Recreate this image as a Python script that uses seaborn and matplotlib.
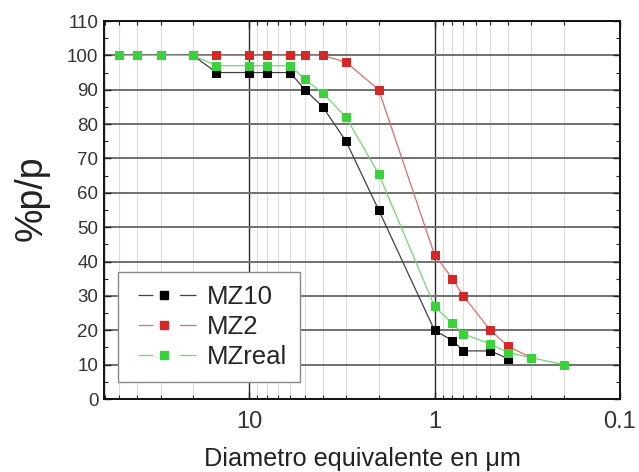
import matplotlib
matplotlib.use("Agg")
import matplotlib.pyplot as plt
import seaborn as sns
import pandas as pd
from matplotlib.lines import Line2D
from matplotlib.ticker import FixedLocator, MultipleLocator, NullFormatter, LogLocator

# ---- data ----
x_mz10 = [50, 40, 30, 20, 15, 10, 8, 6, 5, 4, 3, 2, 1, 0.8, 0.7, 0.5, 0.4]
y_mz10 = [100, 100, 100, 100, 95, 95, 95, 95, 90, 85, 75, 55, 20, 17, 14, 14, 11.7]

x_mz2 = [20, 15, 10, 8, 6, 5, 4, 3, 2, 1, 0.8, 0.7, 0.5, 0.4, 0.3]
y_mz2 = [100, 100, 100, 100, 100, 100, 100, 98, 90, 42, 35, 30, 20, 15.3, 12]

x_mzreal = [50, 40, 30, 20, 15, 10, 8, 6, 5, 4, 3, 2, 1, 0.8, 0.7, 0.5, 0.4, 0.3, 0.2]
y_mzreal = [100, 100, 100, 100, 97, 97, 97, 97, 93, 89, 82, 65.5, 27, 22, 19, 16, 13.5, 12, 10]

series_names = ["MZ10", "MZ2", "MZreal"]
x_ticks = [10, 1, 0.1]
x_tick_labels = ["10", "1", "0.1"]
y_ticks = list(range(0, 111, 10))

sns.set_theme(style="white")
plt.rcParams["font.family"] = ["Liberation Sans", "DejaVu Sans"]

fig = plt.figure(figsize=(6.39, 4.72), dpi=100)
ax = fig.add_axes([104 / 639, 1 - 399 / 472, (620 - 104) / 639, (399 - 21) / 472])

LW = 0.9
MS = 5.2
styles = [
    dict(color="#404040", markerfacecolor="#000000", markeredgecolor="#000000"),
    dict(color="#e36a6a", markerfacecolor="#d42828", markeredgecolor="#d42828"),
    dict(color="#6fd86f", markerfacecolor="#3ad23a", markeredgecolor="#3ad23a"),
]
data = [(x_mz10, y_mz10), (x_mz2, y_mz2), (x_mzreal, y_mzreal)]
for (xs, ys), name, st in zip(data, series_names, styles):
    df = pd.DataFrame({"x": xs, "y": ys})
    sns.lineplot(data=df, x="x", y="y", ax=ax, marker="s", markersize=MS,
                 linewidth=LW, label=name, estimator=None, sort=True, **st)

ax.set_xscale("log")
ax.set_xlim(60.5, 0.1)
ax.set_ylim(0, 110)

ax.xaxis.set_major_locator(FixedLocator(x_ticks))
ax.set_xticklabels(x_tick_labels)
ax.xaxis.set_minor_locator(LogLocator(base=10, subs=range(2, 10)))
ax.xaxis.set_minor_formatter(NullFormatter())
ax.set_yticks(y_ticks)
ax.yaxis.set_minor_locator(MultipleLocator(5))

# grid
ax.grid(False)
ax.grid(True, which="minor", axis="x", color="#dcdcdc", linewidth=0.8)
ax.grid(True, which="major", axis="x", color="#2a2a2a", linewidth=1.0)
ax.grid(True, which="major", axis="y", color="#707070", linewidth=1.4)
ax.set_axisbelow(True)

for sp in ax.spines.values():
    sp.set_color("#111111")
    sp.set_linewidth(1.4)

ax.tick_params(axis="both", which="both", direction="in", top=True, right=True,
               bottom=True, left=True, colors="#222222")
ax.tick_params(axis="both", which="major", length=5, width=1.0)
ax.tick_params(axis="both", which="minor", length=3, width=0.8)
ax.tick_params(axis="x", which="major", labelsize=17, pad=9, labelcolor="#333333")
ax.tick_params(axis="y", which="major", labelsize=13.5, pad=4, labelcolor="#333333")

ax.set_xlabel("Diametro equivalente en \u03bcm", fontsize=18.2, color="#222222", labelpad=10)
ax.set_ylabel("%p/p", fontsize=27, color="#222222")
ax.yaxis.set_label_coords(-0.105, 0.53)

# legend handles: line - marker - line (gap around the marker)
old = ax.get_legend()
if old is not None:
    old.remove()
dash = tuple(v / LW for v in (0.01, 5, 10.8, 19, 12, 200))
handles = []
for st in styles:
    handles.append(Line2D([], [], color=st["color"], linewidth=LW, linestyle=(0, dash),
                          marker="s", markersize=MS,
                          markerfacecolor=st["markerfacecolor"],
                          markeredgecolor=st["markeredgecolor"]))
leg = ax.legend(handles, series_names, loc="lower left", bbox_to_anchor=(0.027, 0.045),
                borderaxespad=0, fontsize=18.5, frameon=True, fancybox=False,
                handlelength=2.6, handletextpad=0.35, labelspacing=0.24, borderpad=0.5)
leg.get_frame().set_edgecolor("#888888")
leg.get_frame().set_linewidth(1.0)
leg.get_frame().set_facecolor("white")
leg.get_frame().set_alpha(1)

fig.savefig("out.png", dpi=100)
